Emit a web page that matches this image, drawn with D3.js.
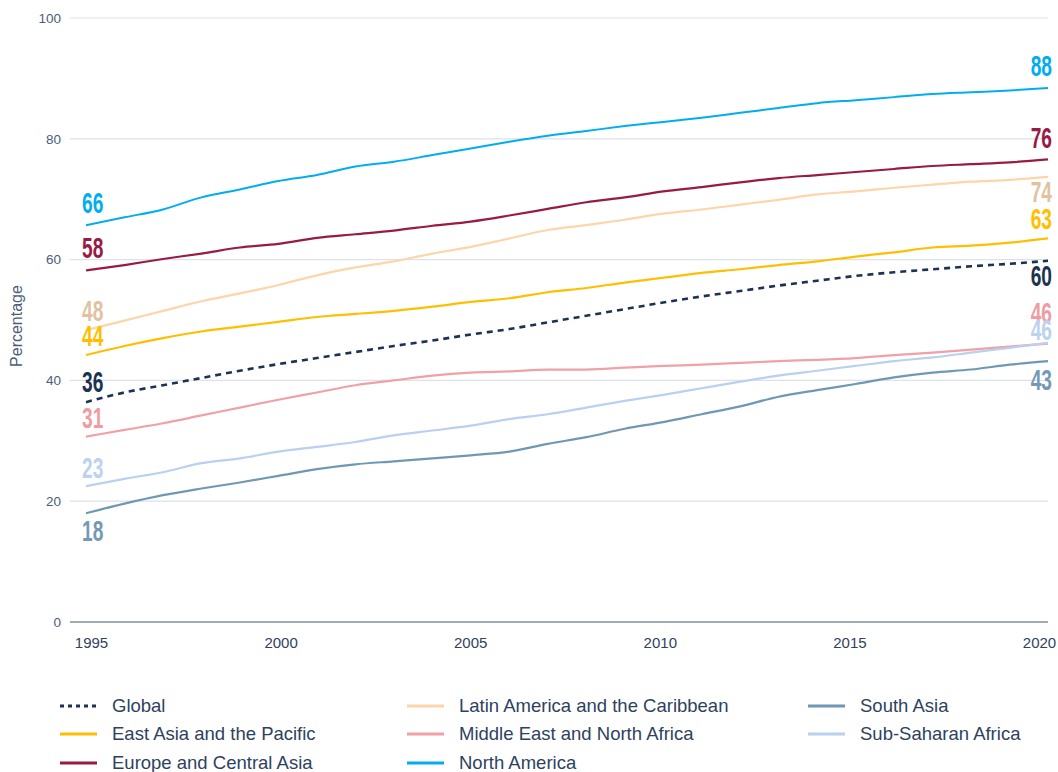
<!DOCTYPE html>
<html>
<head>
<meta charset="utf-8">
<script src="https://cdn.jsdelivr.net/npm/d3@7"></script>
<style>
  body { margin: 0; background: #fff; }
  svg { display: block; }
  .tick text { font-family: "Liberation Sans", Arial, sans-serif; }
</style>
</head>
<body>
<script>
// data
var years = d3.range(1995, 2021);
var yTicks = [0, 20, 40, 60, 80, 100];
var xTicks = [1995, 2000, 2005, 2010, 2015, 2020];

var globalVals     = [36.4,38.0,39.2,40.4,41.6,42.7,43.7,44.7,45.7,46.6,47.6,48.5,49.6,50.7,51.8,52.9,53.9,54.8,55.7,56.5,57.3,57.9,58.4,58.9,59.3,59.8];
var eastAsiaVals   = [44.2,45.7,47.0,48.1,48.9,49.7,50.5,51.0,51.5,52.2,53.0,53.6,54.6,55.3,56.2,57.0,57.8,58.4,59.1,59.7,60.5,61.2,62.0,62.3,62.8,63.5];
var europeVals     = [58.2,59.1,60.1,61.0,62.0,62.6,63.6,64.2,64.8,65.6,66.3,67.3,68.4,69.5,70.3,71.3,72.0,72.8,73.5,74.0,74.5,75.0,75.5,75.8,76.1,76.6];
var latinVals      = [48.3,49.9,51.5,53.1,54.4,55.8,57.4,58.7,59.7,61.0,62.1,63.5,64.9,65.7,66.6,67.6,68.3,69.1,69.9,70.8,71.3,71.9,72.4,72.9,73.2,73.7];
var meVals         = [30.7,31.8,32.9,34.2,35.5,36.8,38.0,39.2,40.0,40.8,41.3,41.5,41.8,41.8,42.1,42.4,42.6,42.9,43.2,43.4,43.7,44.2,44.6,45.1,45.6,46.1];
var northAmVals    = [65.7,67.0,68.3,70.3,71.6,73.0,74.0,75.4,76.2,77.3,78.4,79.5,80.5,81.3,82.1,82.8,83.5,84.3,85.1,85.9,86.4,86.9,87.4,87.7,88.0,88.4];
var southAsiaVals  = [18.0,19.6,21.0,22.1,23.1,24.2,25.3,26.1,26.6,27.1,27.6,28.2,29.5,30.6,32.0,33.1,34.4,35.7,37.3,38.4,39.4,40.5,41.3,41.8,42.6,43.2];
var ssaVals        = [22.5,23.7,24.8,26.3,27.1,28.2,29.0,29.8,30.9,31.7,32.5,33.6,34.4,35.5,36.6,37.6,38.7,39.8,40.8,41.6,42.4,43.2,43.8,44.6,45.4,46.2];

// value labels as printed in the picture (1995, 2020)
var startLabels = [36, 44, 58, 48, 31, 66, 18, 23];
var endLabels   = [60, 63, 76, 74, 46, 88, 43, 46];

var seriesNames = ["Global", "East Asia and the Pacific", "Europe and Central Asia",
                   "Latin America and the Caribbean", "Middle East and North Africa", "North America",
                   "South Asia", "Sub-Saharan Africa"];
var seriesValues = [globalVals, eastAsiaVals, europeVals, latinVals, meVals, northAmVals, southAsiaVals, ssaVals];

// styling per series: line colour, label colour, label offsets (start, end)
var styles = {
  "Global":                          {color: "#1b3252", label: "#1b3252", dash: "6,5", w: 2.6, dyStart: -10, dyEnd: 25},
  "East Asia and the Pacific":       {color: "#ffbf00", label: "#ffbf00", w: 2.2, dyStart: -9,  dyEnd: -9},
  "Europe and Central Asia":         {color: "#981a45", label: "#981a45", w: 2.2, dyStart: -12, dyEnd: -11},
  "Latin America and the Caribbean": {color: "#fdd5aa", label: "#e0c29f", w: 2.2, dyStart: -9,  dyEnd: 25},
  "Middle East and North Africa":    {color: "#f0a1a6", label: "#ee9ca2", w: 2.2, dyStart: -9,  dyEnd: -21},
  "North America":                   {color: "#00aeef", label: "#00aeef", w: 2.0, dyStart: -12, dyEnd: -12},
  "South Asia":                      {color: "#6f98b4", label: "#7399b5", w: 2.2, dyStart: 28,  dyEnd: 29},
  "Sub-Saharan Africa":              {color: "#bad0ee", label: "#bcd2ee", w: 2.2, dyStart: -8,  dyEnd: -3}
};

var width = 1058, height = 772;

var svg = d3.select("body").append("svg")
  .attr("width", width)
  .attr("height", height);

var x = d3.scaleLinear().domain([1995, 2020]).range([86, 1048]);
// year labels sit slightly inside the plotted span
var xLabel = d3.scaleLinear().domain([1995, 2020]).range([91, 1039]);
var y = d3.scaleLinear().domain([0, 100]).range([622, 18]);

// grid
svg.append("g")
  .selectAll("line")
  .data(yTicks.filter(function(d) { return d > 0; }))
  .enter().append("line")
  .attr("x1", 70).attr("x2", 1048)
  .attr("y1", function(d) { return y(d); })
  .attr("y2", function(d) { return y(d); })
  .attr("stroke", "#dde1e8")
  .attr("stroke-width", 1.2);

svg.append("line")
  .attr("x1", 70).attr("x2", 1048)
  .attr("y1", y(0)).attr("y2", y(0))
  .attr("stroke", "#7f8c9f")
  .attr("stroke-width", 1.6);

// y axis labels
var yAxis = svg.append("g")
  .attr("transform", "translate(61,0)")
  .call(d3.axisLeft(y).tickValues(yTicks).tickSize(0).tickPadding(0));
yAxis.select(".domain").remove();
yAxis.selectAll("text")
  .attr("fill", "#4d5d76")
  .style("font-size", "13.5px");

// x axis labels
var xAxis = svg.append("g")
  .attr("transform", "translate(0," + y(0) + ")")
  .call(d3.axisBottom(xLabel).tickValues(xTicks).tickFormat(d3.format("d")).tickSize(0).tickPadding(15));
xAxis.select(".domain").remove();
xAxis.selectAll("text")
  .attr("fill", "#2f4260")
  .style("font-size", "15px");

svg.append("text")
  .attr("transform", "translate(22,326) rotate(-90)")
  .attr("text-anchor", "middle")
  .attr("fill", "#4d5d76")
  .style("font-family", "Liberation Sans, Arial, sans-serif")
  .style("font-size", "16px")
  .text("Percentage");

var line = d3.line()
  .x(function(d, i) { return x(years[i]); })
  .y(function(d) { return y(d); })
  .curve(d3.curveMonotoneX);

// draw order: dashed global on top
var order = [5, 2, 3, 1, 4, 7, 6, 0];
order.forEach(function(i) {
  var name = seriesNames[i], st = styles[name];
  svg.append("path")
    .datum(seriesValues[i])
    .attr("fill", "none")
    .attr("stroke", st.color)
    .attr("stroke-width", st.w)
    .attr("stroke-dasharray", st.dash || null)
    .attr("d", line);
});

// start / end value labels, narrowed to look condensed
var sx = 0.66;
function addLabel(px, py, txt, color, anchor) {
  svg.append("text")
    .attr("transform", "translate(" + px + "," + py + ") scale(" + sx + ",1)")
    .attr("text-anchor", anchor)
    .attr("fill", color)
    .style("font-family", "'Liberation Sans', Arial, sans-serif")
    .style("font-weight", "bold")
    .style("font-size", "29px")
    .text(txt);
}
seriesNames.forEach(function(name, i) {
  var st = styles[name], vals = seriesValues[i];
  addLabel(x(1995) - 4, y(vals[0]) + st.dyStart, startLabels[i], st.label, "start");
  addLabel(x(2020) + 4, y(vals[vals.length - 1]) + st.dyEnd, endLabels[i], st.label, "end");
});

// legend
var legendCols = [60, 407, 808];
var legendRows = [706, 734, 763];
var legend = svg.append("g");
seriesNames.forEach(function(name, i) {
  var st = styles[name];
  var cx = legendCols[Math.floor(i / 3)], cy = legendRows[i % 3];
  legend.append("line")
    .attr("x1", cx).attr("x2", cx + 37)
    .attr("y1", cy).attr("y2", cy)
    .attr("stroke", st.color)
    .attr("stroke-width", 2.8)
    .attr("stroke-dasharray", st.dash ? "4,4" : null);
  legend.append("text")
    .attr("x", cx + 52)
    .attr("y", cy)
    .attr("dy", "0.35em")
    .attr("fill", "#2e4260")
    .style("font-family", "Liberation Sans, Arial, sans-serif")
    .style("font-size", "18.5px")
    .text(name);
});
</script>
</body>
</html>
